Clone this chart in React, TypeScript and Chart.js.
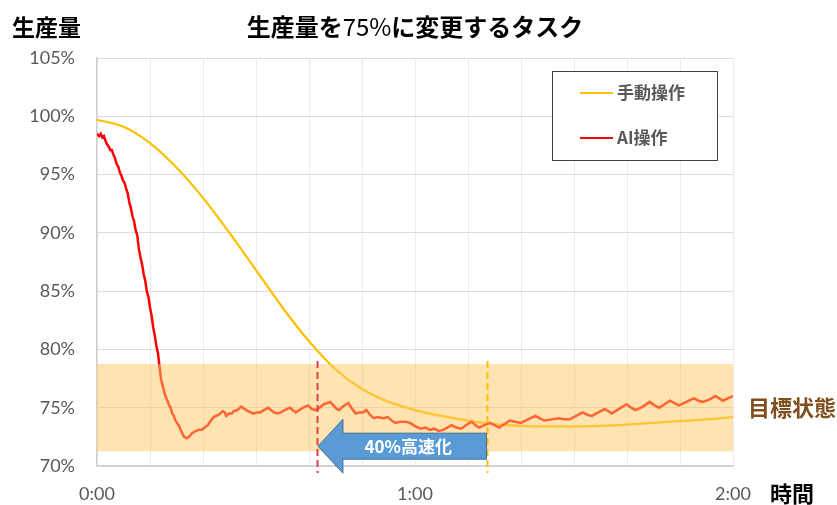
import React, { useEffect, useRef } from "react";
import { Chart, registerables } from "chart.js";

Chart.register(...registerables);

// ---- Data ----
const chartTitleParts: [string, boolean][] = [
  ["生産量を", true],
  ["75%", false],
  ["に変更するタスク", true],
];
const yAxisTitle = "生産量";
const xAxisTitle = "時間";
const targetLabel = "目標状態";
const arrowLabel = "40%高速化";
const seriesNames = ["手動操作", "AI操作"];
const seriesColors = ["#FFC000", "#FF0000"];

const xTickValues = [0, 60, 120];
const xTickLabels = ["0:00", "1:00", "2:00"];
const yTickValues = [70, 75, 80, 85, 90, 95, 100, 105];

const targetBand = [71.25, 78.75];
const aiReachTime = 41.5;
const manualReachTime = 73.5;
const arrowLevel = 71.7;

const manualTime = [0, 5, 10, 15, 20, 25, 30, 35, 40, 45, 50, 55, 60, 65, 70, 75, 80, 85, 90, 95, 100, 105, 110, 115, 120];
const manualValue = [99.7, 99.1, 97.7, 95.6, 93.0, 90.0, 86.8, 83.6, 80.7, 78.3, 76.6, 75.5, 74.8, 74.3, 73.9, 73.6, 73.45, 73.4, 73.4, 73.45, 73.55, 73.7, 73.85, 74.0, 74.2];

const aiTime = [
  0, 0.4, 0.7, 1.0, 1.3, 1.6, 1.9, 2.2, 2.5, 2.8, 3.1, 3.4, 3.7, 4.0, 4.3, 4.6, 4.9, 5.2, 5.5, 5.8,
  6.1, 6.4, 6.7, 7.0, 7.3, 7.6, 7.9, 8.2, 8.5, 8.8, 9.1, 9.4, 9.7, 10.0, 10.3, 10.6, 10.9, 11.2, 11.5, 11.8,
  12.1, 12.4, 12.7, 13.0, 13.3, 13.6, 13.9, 14.2, 14.5, 14.8, 15.1, 15.4, 15.7, 16.0, 16.4, 16.9, 17.4, 17.9, 18.6, 19.2,
  19.8, 20.3, 20.9, 21.5, 22.0, 22.5, 23.0, 23.7, 24.1, 24.4, 24.9, 25.4, 25.8, 26.5, 27.2, 27.8, 28.5, 29.5, 30.2, 30.8,
  31.5, 32.3, 32.8, 33.4, 34.0, 34.7, 35.4, 36.4, 36.9, 37.5, 38.2, 38.9, 39.8, 40.5, 41.2, 42.0, 42.8, 44.0, 44.6, 45.2,
  45.7, 46.4, 47.4, 48.0, 48.8, 49.5, 50.2, 50.8, 51.5, 52.2, 53.0, 54.0, 54.9, 55.6, 56.3, 57.2, 58.2, 59.1, 60.1, 61.1,
  62.0, 62.8, 63.6, 64.5, 65.3, 66.1, 66.9, 67.8, 68.7, 69.6, 70.7, 71.4, 72.1, 73.1, 74.2, 75.0, 75.9, 76.9, 77.9, 78.9,
  80.0, 81.3, 82.7, 83.5, 84.4, 85.8, 87.2, 88.2, 89.2, 90.4, 91.6, 92.5, 93.4, 94.6, 95.8, 96.5, 97.1, 98.5, 99.9, 100.8,
  101.6, 103.0, 104.3, 105.2, 106.1, 107.1, 108.1, 109.0, 109.8, 111.2, 112.6, 113.5, 114.3, 115.5, 116.7, 117.4, 118.1, 119.0, 120.0,
];
const aiValue = [
  98.5, 98.3, 98.5, 98.2, 98.3, 97.9, 97.6, 97.4, 97.1, 97.1, 96.7, 96.4, 95.9, 95.7, 95.2, 94.9, 94.5, 94.3, 93.8, 93.4,
  92.6, 92.1, 91.4, 91.0, 90.2, 89.8, 88.6, 87.9, 87.3, 86.5, 85.9, 85.0, 84.5, 83.6, 82.9, 81.9, 81.2, 80.3, 79.7, 78.5,
  77.4, 76.9, 76.3, 75.9, 75.6, 75.2, 75.0, 74.5, 74.3, 73.9, 73.7, 73.5, 73.2, 72.9, 72.5, 72.4, 72.5, 72.8, 73.0, 73.1,
  73.1, 73.3, 73.5, 73.9, 74.2, 74.3, 74.4, 74.7, 74.6, 74.3, 74.5, 74.5, 74.7, 74.8, 75.1, 74.9, 74.7, 74.5, 74.6, 74.6,
  74.8, 75.0, 74.8, 74.6, 74.5, 74.6, 74.8, 75.0, 74.8, 74.6, 74.8, 75.0, 75.2, 74.9, 74.8, 75.0, 75.3, 75.5, 75.2, 74.9,
  74.8, 75.1, 75.4, 75.0, 74.5, 74.6, 74.6, 74.8, 74.4, 74.1, 74.2, 74.1, 74.2, 73.9, 73.7, 73.8, 73.8, 73.7, 73.4, 73.2,
  73.3, 73.1, 73.2, 73.0, 73.1, 73.3, 73.5, 73.3, 73.2, 73.5, 73.8, 73.5, 73.3, 73.5, 73.7, 73.5, 73.3, 73.6, 73.9, 73.8,
  73.7, 74.0, 74.3, 74.1, 73.9, 74.0, 74.1, 74.0, 74.0, 74.3, 74.6, 74.4, 74.3, 74.6, 74.9, 74.7, 74.5, 74.9, 75.3, 75.0,
  74.8, 75.1, 75.5, 75.2, 75.0, 75.3, 75.6, 75.4, 75.2, 75.5, 75.8, 75.6, 75.5, 75.7, 76.0, 75.8, 75.6, 75.8, 76.0,
];

const JP = '"Noto Sans CJK JP", "Noto Sans", sans-serif';
const NUM = 'Lato, "Noto Sans", sans-serif';

const overlayPlugin = {
  id: "overlay",
  afterDatasetsDraw(chart: any) {
    const { ctx, chartArea } = chart;
    const xs = chart.scales.x;
    const ys = chart.scales.y;
    ctx.save();
    // target band (semi transparent, over the lines)
    const bandTop = ys.getPixelForValue(targetBand[1]);
    const bandBot = ys.getPixelForValue(targetBand[0]);
    ctx.fillStyle = "rgba(255, 200, 100, 0.5)";
    ctx.fillRect(chartArea.left, bandTop, chartArea.right - chartArea.left, bandBot - bandTop);

    // dashed markers
    const drawDash = (t: number, color: string) => {
      const x = Math.round(xs.getPixelForValue(t)) + 0.5;
      ctx.beginPath();
      ctx.setLineDash([7, 4]);
      ctx.strokeStyle = color;
      ctx.lineWidth = 2;
      ctx.moveTo(x, bandTop - 3);
      ctx.lineTo(x, chartArea.bottom + 7);
      ctx.stroke();
      ctx.setLineDash([]);
    };
    drawDash(aiReachTime, "#DF3F4B");
    drawDash(manualReachTime, "#FFC000");

    // arrow
    const tipX = xs.getPixelForValue(aiReachTime) + 1;
    const tailX = xs.getPixelForValue(manualReachTime);
    const cy = ys.getPixelForValue(arrowLevel);
    const headLen = 25;
    const bodyHalf = 13;
    const headHalf = 27;
    ctx.beginPath();
    ctx.moveTo(tipX, cy);
    ctx.lineTo(tipX + headLen, cy - headHalf);
    ctx.lineTo(tipX + headLen, cy - bodyHalf);
    ctx.lineTo(tailX, cy - bodyHalf);
    ctx.lineTo(tailX, cy + bodyHalf);
    ctx.lineTo(tipX + headLen, cy + bodyHalf);
    ctx.lineTo(tipX + headLen, cy + headHalf);
    ctx.closePath();
    ctx.fillStyle = "#5B9BD5";
    ctx.fill();
    ctx.strokeStyle = "#41719C";
    ctx.lineWidth = 1;
    ctx.stroke();
    ctx.fillStyle = "#FFFFFF";
    ctx.font = `bold 17px ${JP}`;
    ctx.textAlign = "center";
    ctx.textBaseline = "middle";
    ctx.fillText(arrowLabel, (tipX + tailX) / 2 + 6, cy);

    // legend box
    const lx = chartArea.right - 181;
    const ly = chartArea.top + 13;
    ctx.fillStyle = "#FFFFFF";
    ctx.fillRect(lx, ly, 165, 89);
    ctx.strokeStyle = "#404040";
    ctx.lineWidth = 1;
    ctx.strokeRect(lx + 0.5, ly + 0.5, 165, 89);
    seriesNames.forEach((name, i) => {
      const yy = ly + 22 + i * 45;
      ctx.beginPath();
      ctx.strokeStyle = seriesColors[i];
      ctx.lineWidth = 2;
      ctx.moveTo(lx + 28, yy);
      ctx.lineTo(lx + 61, yy);
      ctx.stroke();
      ctx.fillStyle = "#595959";
      ctx.font = `bold 17px ${JP}`;
      ctx.textAlign = "left";
      ctx.textBaseline = "middle";
      ctx.fillText(name, lx + 65, yy);
    });

    // texts
    ctx.fillStyle = "#000000";
    ctx.textBaseline = "middle";
    let total = 0;
    const fontFor = (b: boolean) => `${b ? "bold " : ""}24px ${JP}`;
    chartTitleParts.forEach(([s, b]) => {
      ctx.font = fontFor(b);
      total += ctx.measureText(s).width;
    });
    let tx = (chartArea.left + chartArea.right) / 2 - total / 2;
    ctx.textAlign = "left";
    chartTitleParts.forEach(([s, b]) => {
      ctx.font = fontFor(b);
      ctx.fillText(s, tx, 27);
      tx += ctx.measureText(s).width;
    });

    ctx.font = `bold 23px ${JP}`;
    ctx.fillText(yAxisTitle, 12, 27);
    ctx.font = `bold 22px ${JP}`;
    ctx.fillText(xAxisTitle, chartArea.right + 37, chartArea.bottom + 28);
    ctx.fillStyle = "#7F4F1F";
    ctx.fillText(targetLabel, chartArea.right + 15, ys.getPixelForValue(75));
    ctx.restore();
  },
};

export default function App() {
  const ref = useRef<HTMLCanvasElement | null>(null);
  useEffect(() => {
    if (!ref.current) return;
    const chart = new Chart(ref.current, {
      type: "line",
      data: {
        datasets: [
          {
            label: seriesNames[0],
            data: manualTime.map((t, i) => ({ x: t, y: manualValue[i] })),
            borderColor: seriesColors[0],
            borderWidth: 2.25,
            pointRadius: 0,
            cubicInterpolationMode: "monotone",
            order: 2,
          },
          {
            label: seriesNames[1],
            data: aiTime.map((t, i) => ({ x: t, y: aiValue[i] })),
            borderColor: seriesColors[1],
            borderWidth: 2.5,
            pointRadius: 0,
            tension: 0,
            order: 1,
          },
        ],
      },
      options: {
        responsive: false,
        animation: false,
        devicePixelRatio: 1,
        layout: { padding: { top: 58, right: 104, left: 0, bottom: 0 } },
        plugins: { legend: { display: false }, title: { display: false }, tooltip: { enabled: false } },
        scales: {
          x: {
            type: "linear",
            min: 0,
            max: 120,
            afterBuildTicks: (scale: any) => {
              const arr = [];
              for (let v = 0; v <= 120; v += 10) arr.push({ value: v });
              scale.ticks = arr;
            },
            afterFit: (scale: any) => {
              scale.height = 39;
            },
            ticks: {
              autoSkip: false,
              maxRotation: 0,
              padding: 17,
              color: "#595959",
              font: { family: NUM, size: 18 },
              callback: (v: any) => {
                const idx = xTickValues.indexOf(Number(v));
                return idx >= 0 ? xTickLabels[idx] : "";
              },
            },
            grid: { color: "#EBEBEB", drawTicks: false, lineWidth: 1 },
            border: { color: "#D0D0D0", width: 1.5 },
          },
          y: {
            type: "linear",
            min: 70,
            max: 105,
            afterBuildTicks: (scale: any) => {
              scale.ticks = yTickValues.map((v) => ({ value: v }));
            },
            afterFit: (scale: any) => {
              scale.width = 97;
            },
            ticks: {
              padding: 22,
              color: "#595959",
              font: { family: NUM, size: 18 },
              callback: (v: any) => `${v}%`,
            },
            grid: { color: "#DCDCDC", drawTicks: false, lineWidth: 1 },
            border: { color: "#D0D0D0", width: 1.5 },
          },
        },
      },
      plugins: [overlayPlugin],
    } as any);
    return () => chart.destroy();
  }, []);
  return (
    <div style={{ position: "absolute", left: 0, top: 0, width: 837, height: 505, background: "#fff" }}>
      <canvas ref={ref} width={837} height={505} style={{ display: "block" }} />
    </div>
  );
}
